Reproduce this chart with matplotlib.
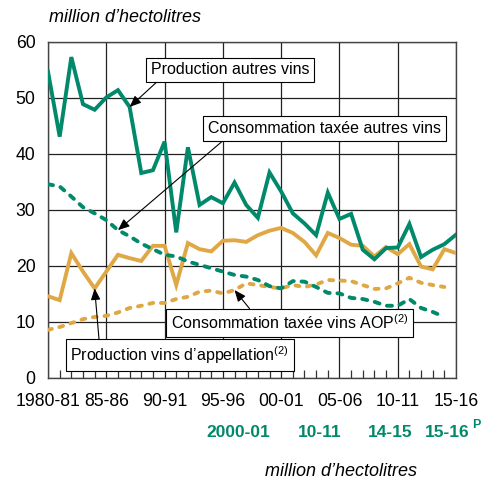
import numpy as np
import matplotlib
matplotlib.use('Agg')
import matplotlib.pyplot as plt

plt.rcParams['font.family'] = ['Liberation Sans', 'DejaVu Sans']
plt.rcParams['mathtext.fontset'] = 'custom'
plt.rcParams['mathtext.rm'] = 'Liberation Sans'

# campaigns 1980-81 .. 2015-16
tick_labels = ['1980-81', '85-86', '90-91', '95-96', '00-01', '05-06', '10-11', '15-16']

prod_autres = [54.7, 43.1, 57.3, 48.9, 47.9, 50.1, 51.4, 48.4, 36.6, 37.1,
               42.2, 26.0, 41.2, 30.9, 32.3, 31.2, 34.9, 30.9, 28.6, 36.7,
               33.3, 29.4, 27.6, 25.5, 33.1, 28.4, 29.3, 22.9, 21.2, 23.2,
               23.3, 27.5, 21.6, 22.9, 23.9, 25.6]
prod_aop = [14.6, 13.9, 22.3, 19.0, 16.0, 19.0, 22.0, 21.4, 20.9, 23.6,
            23.6, 16.6, 24.1, 23.0, 22.6, 24.5, 24.6, 24.3, 25.5, 26.3,
            26.8, 25.9, 24.3, 21.9, 25.9, 25.0, 23.8, 23.6, 21.7, 23.4,
            22.1, 23.9, 19.9, 19.4, 23.0, 22.3]
conso_autres = [34.6, 34.2, 32.4, 30.5, 29.4, 28.2, 26.4, 25.3, 24.0, 23.0,
                22.0, 21.7, 20.8, 20.2, 19.6, 19.0, 18.4, 18.1, 17.5, 16.4,
                16.0, 17.3, 17.2, 16.25, 15.2, 15.1, 14.3, 14.1, 13.6, 12.9,
                12.9, 14.1, 12.5, 11.8, 10.9]
conso_aop = [8.6, 9.1, 9.8, 10.5, 10.9, 11.1, 11.7, 12.5, 12.9, 13.4,
             13.4, 14.1, 14.5, 15.4, 15.6, 15.1, 15.7, 16.9, 16.6, 16.25,
             16.0, 16.6, 16.25, 16.7, 17.5, 17.4, 17.3, 16.6, 15.9, 16.0,
             16.9, 17.9, 17.0, 16.6, 16.25]

table_cols = ['2000-01', '10-11', '14-15', '15-16']

green = '#00896B'
orange = '#E0A845'

fig = plt.figure(figsize=(4.84, 4.82), dpi=100)
ax = fig.add_axes([0.0992, 0.2158, 0.8430, 0.6971])

x_prod = np.arange(len(prod_autres))
x_cons = np.arange(len(conso_autres))

ax.plot(x_prod, prod_aop, color=orange, lw=2.8, solid_joinstyle='miter', zorder=3)
ax.plot(x_prod, prod_autres, color=green, lw=2.8, solid_joinstyle='miter', zorder=4)
ax.plot(x_cons, conso_aop, color=orange, lw=2.8, dash_capstyle='round',
        dashes=(1.0, 2.0), zorder=3)
ax.plot(x_cons, conso_autres, color=green, lw=2.8, dash_capstyle='round',
        dashes=(1.3, 2.0), zorder=3)

ax.set_xlim(0, 35)
ax.set_ylim(0, 60)
ax.set_xticks(np.arange(0, 36, 5))
ax.set_xticklabels(tick_labels)
ax.set_xticks(np.arange(0, 36), minor=True)
ax.set_yticks(np.arange(0, 61, 10))
ax.tick_params(axis='both', which='major', length=0, labelsize=12.7)
ax.tick_params(axis='x', which='major', pad=11)
ax.tick_params(axis='y', which='major', pad=9)
ax.tick_params(axis='x', which='minor', direction='in', length=5.8, width=0.9,
               color='#333333')
ax.grid(True, which='major', color='#222222', lw=0.9)
for s in ax.spines.values():
    s.set_color('#444444')
    s.set_linewidth(1.0)

box = dict(boxstyle='square,pad=0.3', fc='white', ec='black', lw=0.8)
arrow = dict(arrowstyle='-|>,head_length=0.6,head_width=0.25', color='black',
             lw=0.8, shrinkA=0, shrinkB=0)

ax.annotate('Production autres vins', xy=(7, prod_autres[7]), xytext=(15.6, 55.0),
            fontsize=11.5, ha='center', va='center', bbox=box,
            arrowprops=dict(arrow, relpos=(0.07, 0)), zorder=6)
ax.annotate('Consommation taxée autres vins', xy=(6, conso_autres[6]),
            xytext=(23.7, 44.6), fontsize=11.5, ha='center', va='center', bbox=box,
            arrowprops=dict(arrow, relpos=(0.09, 0)), zorder=6)
ax.annotate('Consommation taxée vins AOP$^{(2)}$', xy=(16, conso_aop[16]),
            xytext=(20.7, 9.8), fontsize=11.5, ha='center', va='center', bbox=box,
            arrowprops=dict(arrow, relpos=(0.35, 1)), zorder=6)
ax.annotate('Production vins d’appellation$^{(2)}$', xy=(4, prod_aop[4]),
            xytext=(11.3, 4.1), fontsize=11.5, ha='center', va='center', bbox=box,
            arrowprops=dict(arrow, relpos=(0.133, 1)), zorder=6)

fig.text(0.101, 0.963, 'million d’hectolitres', fontsize=13, style='italic',
         ha='left', va='center')

for label, xc in zip(table_cols, [0.492, 0.661, 0.806, 0.924]):
    fig.text(xc, 0.102, label, fontsize=12.5, fontweight='bold', color=green,
             ha='center', va='center')
fig.text(0.984, 0.118, 'P', fontsize=9, fontweight='bold', color=green,
         ha='center', va='center')
fig.text(0.705, 0.022, 'million d’hectolitres', fontsize=13, style='italic',
         ha='center', va='center')

fig.savefig('out.png', dpi=100)
